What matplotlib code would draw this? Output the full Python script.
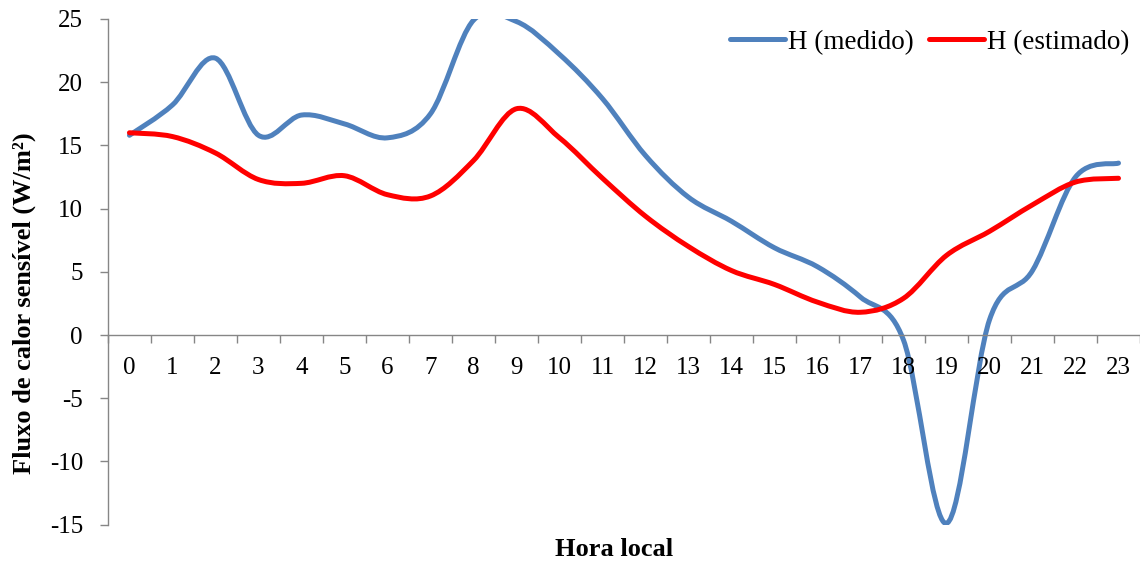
import matplotlib.pyplot as plt
from matplotlib.path import Path
from matplotlib.patches import PathPatch
from matplotlib.lines import Line2D

plt.rcParams["font.family"] = ["Liberation Serif", "DejaVu Serif"]
plt.rcParams["axes.unicode_minus"] = False

hours = list(range(24))
h_medido = [15.8, 18.2, 21.9, 15.8, 17.4, 16.7, 15.6, 17.5, 24.9, 24.8, 22.2, 18.7,
            14.2, 10.9, 9.0, 6.9, 5.4, 3.0, -0.4, -14.9, 1.2, 5.1, 12.5, 13.6]
h_estimado = [16.0, 15.7, 14.4, 12.3, 12.0, 12.6, 11.1, 11.0, 13.8, 17.9, 15.6, 12.4,
              9.4, 7.0, 5.1, 4.0, 2.6, 1.8, 2.9, 6.3, 8.2, 10.3, 12.1, 12.4]
labels = ["H (medido)", "H (estimado)"]
colors = ["#4F81BD", "#FF0000"]


def smooth_path(xs, ys):
    # bezier segments like the smoothed lines of a spreadsheet
    pts = list(zip(xs, ys))
    n = len(pts)
    verts = [pts[0]]
    codes = [Path.MOVETO]
    for i in range(n - 1):
        p0 = pts[max(i - 1, 0)]
        p1 = pts[i]
        p2 = pts[i + 1]
        p3 = pts[min(i + 2, n - 1)]
        c1 = (p1[0] + (p2[0] - p0[0]) / 6, p1[1] + (p2[1] - p0[1]) / 6)
        c2 = (p2[0] - (p3[0] - p1[0]) / 6, p2[1] - (p3[1] - p1[1]) / 6)
        verts += [c1, c2, p2]
        codes += [Path.CURVE4] * 3
    return Path(verts, codes)


fig = plt.figure(figsize=(11.4, 5.62), dpi=100)
ax = fig.add_axes([0.0947, 0.0665, 0.9053, 0.8997])

for series, color in zip([h_medido, h_estimado], colors):
    patch = PathPatch(smooth_path(hours, series), facecolor="none", edgecolor=color,
                      lw=3.6, capstyle="round", joinstyle="round")
    ax.add_patch(patch)

ax.set_xlim(-0.5, 23.5)
ax.set_ylim(-15, 25)
ax.set_yticks(range(-15, 26, 5))

ax.spines["top"].set_visible(False)
ax.spines["right"].set_visible(False)
ax.spines["bottom"].set_position(("data", 0))
for s in ["left", "bottom"]:
    ax.spines[s].set_color("#868686")
    ax.spines[s].set_linewidth(1.0)

ax.set_xticks(hours)
ax.set_xticklabels([str(h) for h in hours])
ax.set_xticks([h - 0.5 for h in hours] + [23.5], minor=True)
ax.tick_params(axis="x", which="major", length=0, pad=16, labelsize=18)
ax.tick_params(axis="x", which="minor", length=6, width=1, color="#868686", direction="out")
ax.tick_params(axis="y", length=6, width=1, color="#868686", direction="out", pad=12, labelsize=18)

fig.text(0.539, 0.023, "Hora local", ha="center", va="center", fontsize=19, fontweight="bold")
fig.text(0.021, 0.461, "Fluxo de calor sensível (W/m²)", ha="center", va="center",
         rotation=90, fontsize=19, fontweight="bold")

handles = [Line2D([], [], color=c, lw=3.6, solid_capstyle="round") for c in colors]
ax.legend(handles, labels, loc="upper right", bbox_to_anchor=(1.0, 1.0), ncol=2,
          frameon=False, fontsize=19.5, handlelength=2.05, handletextpad=0.1,
          columnspacing=0.55, borderaxespad=0.1, borderpad=0.3)

fig.savefig("out.png", dpi=100)
